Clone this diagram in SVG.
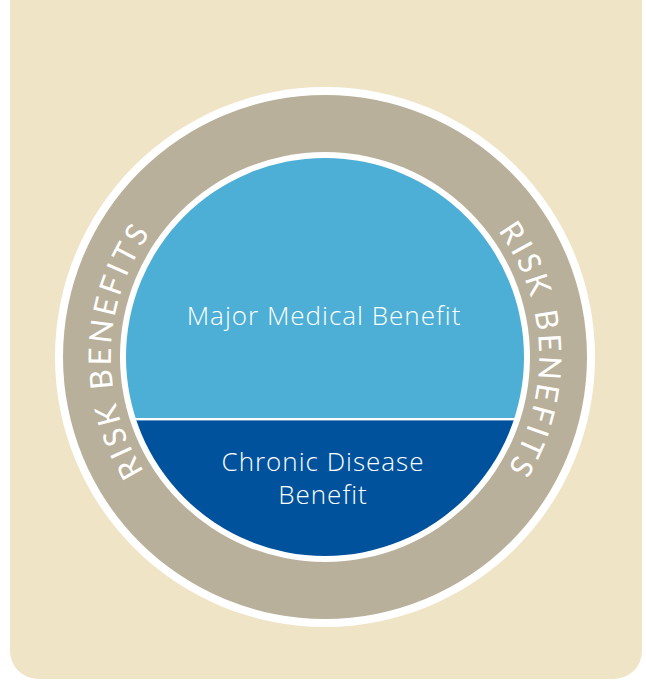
<svg xmlns="http://www.w3.org/2000/svg" xmlns:xlink="http://www.w3.org/1999/xlink" width="646" height="680" viewBox="0 0 646 680">
  <style>
    .lbl { font-family: "Open Sans", "Lato", "Liberation Sans", sans-serif; font-weight: 300; fill: #ffffff; text-anchor: middle; font-size: 26px; letter-spacing: 1px; }
    .ring { font-family: "Lato", "Open Sans", "Liberation Sans", sans-serif; font-weight: 400; fill: #ffffff; font-size: 31px; letter-spacing: 3.2px; }
  </style>
  <defs>
    <path id="ringPath" d="M 325 571 A 214 214 0 1 1 325 143 A 214 214 0 1 1 325 571"/>
    <clipPath id="innerClip"><circle cx="325" cy="357" r="199"/></clipPath>
  </defs>
  <rect id="background" x="10" y="-40" width="632" height="719" rx="28" fill="#F0E4C7"/>
  <g id="outer-ring">
    <circle cx="325" cy="357" r="270" fill="#ffffff"/>
    <circle cx="325" cy="357" r="262" fill="#B8B09A"/>
    <circle cx="325" cy="357" r="205" fill="#ffffff"/>
    <text class="ring"><textPath xlink:href="#ringPath" startOffset="343" text-anchor="middle">RISK BENEFITS</textPath></text>
    <text class="ring"><textPath xlink:href="#ringPath" startOffset="1001" text-anchor="middle">RISK BENEFITS</textPath></text>
  </g>
  <g id="major-medical" clip-path="url(#innerClip)">
    <rect x="120" y="150" width="410" height="268" fill="#4DAED6"/>
    <text class="lbl" x="324" y="325">Major Medical Benefit</text>
  </g>
  <g id="chronic-disease" clip-path="url(#innerClip)">
    <rect x="120" y="420" width="410" height="150" fill="#00529C"/>
    <rect x="120" y="418" width="410" height="2.4" fill="#ffffff"/>
    <text class="lbl" x="323" y="471">Chronic Disease</text>
    <text class="lbl" x="323" y="504">Benefit</text>
  </g>
</svg>
